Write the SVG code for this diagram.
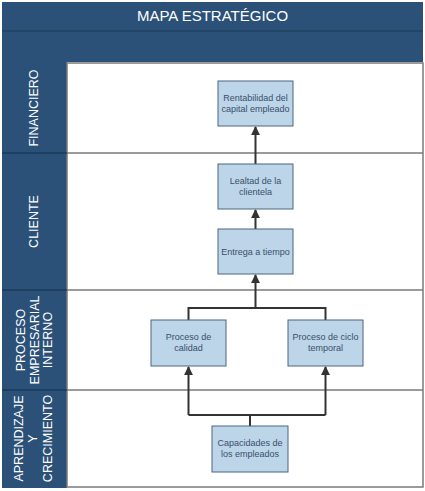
<svg xmlns="http://www.w3.org/2000/svg" width="425" height="491" viewBox="0 0 425 491">
<defs>
<marker id="ah" viewBox="0 0 10 10" refX="9" refY="5" markerWidth="4.5" markerHeight="4.5" orient="auto" markerUnits="strokeWidth">
<path d="M0,0 L10,5 L0,10 z" fill="#333333"/>
</marker>
<style>
.band{fill:#2b5179;}
.sep{stroke:#7a7a7a;stroke-width:1.5;fill:none;}
.lsep{stroke:#1d3a59;stroke-width:1.5;}
.lab{font-family:"Liberation Sans",Arial,sans-serif;font-size:12.5px;fill:#ffffff;text-anchor:middle;}
.box{fill:#bcd5e8;stroke:#4d6580;stroke-width:1;}
.bt{font-family:"Liberation Sans",Arial,sans-serif;font-size:9px;fill:#3a4f6b;text-anchor:middle;}
.con{stroke:#333333;stroke-width:2;fill:none;}
</style>
</defs>
<rect x="0" y="0" width="425" height="491" fill="#ffffff"/>
<rect class="band" x="2" y="2" width="421" height="60"/>
<line x1="2" y1="31" x2="423" y2="31" stroke="#1d3a59" stroke-width="1"/>
<text x="212.5" y="21" font-family="'Liberation Sans',Arial,sans-serif" font-size="15" fill="#ffffff" text-anchor="middle">MAPA ESTRATÉGICO</text>
<rect class="band" x="2" y="62" width="65" height="426"/>
<rect x="67" y="63" width="356" height="424" fill="#ffffff" stroke="#7a7a7a" stroke-width="1.5"/>
<line class="sep" x1="67" y1="153" x2="423" y2="153"/>
<line class="sep" x1="67" y1="290" x2="423" y2="290"/>
<line class="sep" x1="67" y1="390" x2="423" y2="390"/>
<line class="lsep" x1="2" y1="153" x2="67" y2="153"/>
<line class="lsep" x1="2" y1="290" x2="67" y2="290"/>
<line class="lsep" x1="2" y1="390" x2="67" y2="390"/>
<g id="lane-financiero"><text class="lab" transform="translate(38,108) rotate(-90)">FINANCIERO</text></g>
<g id="lane-cliente"><text class="lab" transform="translate(38,221.5) rotate(-90)">CLIENTE</text></g>
<g id="lane-proceso"><text class="lab" transform="translate(0,340) rotate(-90)"><tspan x="0" y="25">PROCESO</tspan><tspan x="0" y="38.5">EMPRESARIAL</tspan><tspan x="0" y="52">INTERNO</tspan></text></g>
<g id="lane-aprendizaje"><text class="lab" transform="translate(0,438.5) rotate(-90)"><tspan x="0" y="23">APRENDIZAJE</tspan><tspan x="0" y="37">Y</tspan><tspan x="0" y="52">CRECIMIENTO</tspan></text></g>
<g id="connectors">
<line class="con" x1="255.5" y1="164" x2="255.5" y2="127" marker-end="url(#ah)"/>
<line class="con" x1="255.5" y1="229" x2="255.5" y2="210" marker-end="url(#ah)"/>
<polyline class="con" points="188.5,320 188.5,308 325.5,308 325.5,320"/>
<line class="con" x1="255.5" y1="308" x2="255.5" y2="275" marker-end="url(#ah)"/>
<line class="con" x1="250" y1="426" x2="250" y2="415"/>
<polyline class="con" points="188.5,415 325.5,415"/>
<line class="con" x1="188.5" y1="415" x2="188.5" y2="367" marker-end="url(#ah)"/>
<line class="con" x1="325.5" y1="415" x2="325.5" y2="367" marker-end="url(#ah)"/>
</g>
<g id="n-rentabilidad"><rect class="box" x="218" y="81" width="75" height="45"/><text class="bt" x="255.5" y="101">Rentabilidad del</text><text class="bt" x="255.5" y="111.5">capital empleado</text></g>
<g id="n-lealtad"><rect class="box" x="218" y="164" width="75" height="45"/><text class="bt" x="255.5" y="184">Lealtad de la</text><text class="bt" x="255.5" y="194.5">clientela</text></g>
<g id="n-entrega"><rect class="box" x="218" y="229" width="75" height="45"/><text class="bt" x="255.5" y="254.5">Entrega a tiempo</text></g>
<g id="n-calidad"><rect class="box" x="151" y="320" width="75" height="46"/><text class="bt" x="188.5" y="340">Proceso de</text><text class="bt" x="188.5" y="350.5">calidad</text></g>
<g id="n-ciclo"><rect class="box" x="288" y="320" width="75" height="46"/><text class="bt" x="325.5" y="340">Proceso de ciclo</text><text class="bt" x="325.5" y="350.5">temporal</text></g>
<g id="n-capacidades"><rect class="box" x="212" y="426" width="76" height="46"/><text class="bt" x="250" y="446">Capacidades de</text><text class="bt" x="250" y="456.5">los empleados</text></g>
</svg>
